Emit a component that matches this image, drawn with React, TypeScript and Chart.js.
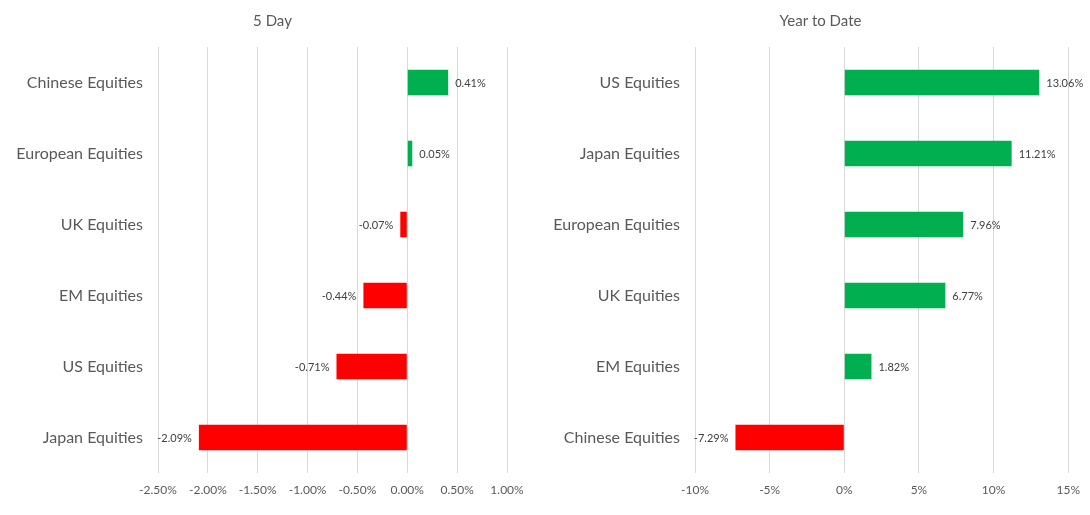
import React, { useEffect, useRef } from "react";
import { Chart, registerables } from "chart.js";

Chart.register(...registerables);

const fiveDayCategories = ["Chinese Equities", "European Equities", "UK Equities", "EM Equities", "US Equities", "Japan Equities"];
const fiveDayValues = [0.41, 0.05, -0.07, -0.44, -0.71, -2.09];

const ytdCategories = ["US Equities", "Japan Equities", "European Equities", "UK Equities", "EM Equities", "Chinese Equities"];
const ytdValues = [13.06, 11.21, 7.96, 6.77, 1.82, -7.29];

const GREEN = "#00B050";
const RED = "#FF0000";
const FONT = "Lato, 'Open Sans', sans-serif";

const valueLabelPlugin = {
  id: "valueLabels",
  afterDatasetsDraw(chart: any) {
    const ctx = chart.ctx;
    const ds = chart.data.datasets[0];
    const meta = chart.getDatasetMeta(0);
    ctx.save();
    ctx.font = `11px ${FONT}`;
    ctx.fillStyle = "#404040";
    ctx.textBaseline = "middle";
    meta.data.forEach((el: any, i: number) => {
      const v = ds.data[i];
      const txt = v.toFixed(2) + "%";
      if (v >= 0) {
        ctx.textAlign = "left";
        ctx.fillText(txt, el.x + 7, el.y + 1);
      } else {
        ctx.textAlign = "right";
        ctx.fillText(txt, el.x - 7, el.y + 1);
      }
    });
    ctx.restore();
  },
};

const centeredTitlePlugin = {
  id: "centeredTitle",
  afterDraw(chart: any, _args: any, opts: any) {
    const ctx = chart.ctx;
    ctx.save();
    ctx.font = `15px ${FONT}`;
    ctx.fillStyle = "#595959";
    ctx.textAlign = "center";
    ctx.textBaseline = "middle";
    ctx.fillText(opts.text, chart.width / 2 + (opts.shift || 0), 21);
    ctx.restore();
  },
};

function BarPanel(props: {
  title: string;
  labels: string[];
  values: number[];
  min: number;
  max: number;
  step: number;
  decimals: number;
  yWidth: number;
  padRight: number;
  left: number;
  titleShift: number;
}) {
  const ref = useRef<HTMLCanvasElement>(null);
  useEffect(() => {
    if (!ref.current) return;
    const chart = new Chart(ref.current, {
      type: "bar",
      data: {
        labels: props.labels,
        datasets: [
          {
            data: props.values,
            backgroundColor: props.values.map((v) => (v >= 0 ? GREEN : RED)),
            barPercentage: 0.36,
            categoryPercentage: 1,
          },
        ],
      },
      options: {
        indexAxis: "y",
        animation: false,
        responsive: false,
        maintainAspectRatio: false,
        layout: { padding: { left: 0, right: props.padRight, top: 47, bottom: 0 } },
        plugins: {
          legend: { display: false },
          tooltip: { enabled: false },
          title: { display: false },
          centeredTitle: { text: props.title, shift: props.titleShift },
        } as any,
        scales: {
          x: {
            min: props.min,
            max: props.max,
            afterFit: (s: any) => {
              s.height = 42;
            },
            grid: { color: "#d9d9d9", drawTicks: false },
            border: { display: false },
            ticks: {
              stepSize: props.step,
              padding: 10,
              color: "#595959",
              font: { family: FONT, size: 12 },
              callback: (v: any) => Number(v).toFixed(props.decimals) + "%",
            },
          },
          y: {
            afterFit: (s: any) => {
              s.width = props.yWidth;
            },
            grid: { display: false, drawTicks: false },
            border: { display: false },
            ticks: {
              padding: 15,
              color: "#595959",
              font: { family: FONT, size: 16 },
            },
          },
        },
      },
      plugins: [valueLabelPlugin, centeredTitlePlugin],
    });
    return () => chart.destroy();
  }, []);
  return (
    <div style={{ position: "absolute", left: props.left, top: 0, width: 545, height: 515 }}>
      <canvas ref={ref} width={545} height={515} style={{ width: 545, height: 515 }} />
    </div>
  );
}

export default function App() {
  return (
    <div style={{ position: "absolute", left: 0, top: 0, width: 1090, height: 515, background: "#fff" }}>
      <BarPanel
        title="5 Day"
        labels={fiveDayCategories}
        values={fiveDayValues}
        min={-2.5}
        max={1.0}
        step={0.5}
        decimals={2}
        yWidth={158}
        padRight={38}
        left={0}
        titleShift={0}
      />
      <BarPanel
        title="Year to Date"
        labels={ytdCategories}
        values={ytdValues}
        min={-10}
        max={15}
        step={5}
        decimals={0}
        yWidth={150}
        padRight={20}
        left={545}
        titleShift={3}
      />
    </div>
  );
}
